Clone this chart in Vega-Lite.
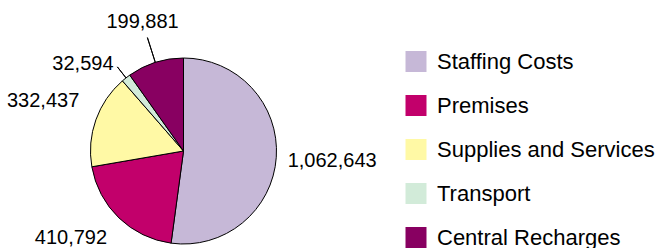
{
  "$schema": "https://vega.github.io/schema/vega-lite/v6.json",
  "autosize": "none",
  "width": 367,
  "height": 194,
  "padding": {"left": 0, "top": 54, "right": 289, "bottom": 0},
  "background": "white",
  "config": {"view": {"stroke": null}, "font": "Liberation Sans"},
  "data": {
    "values": [
      {"category": "Staffing Costs", "value": 1062643, "idx": 1},
      {"category": "Premises", "value": 410792, "idx": 2},
      {"category": "Supplies and Services", "value": 332437, "idx": 3},
      {"category": "Transport", "value": 32594, "idx": 4},
      {"category": "Central Recharges", "value": 199881, "idx": 5}
    ]
  },
  "encoding": {
    "theta": {"field": "value", "type": "quantitative", "stack": true},
    "order": {"field": "idx", "type": "quantitative"}
  },
  "layer": [
    {
      "mark": {"type": "arc", "outerRadius": 93, "stroke": "black", "strokeWidth": 1},
      "encoding": {
        "color": {
          "field": "category",
          "type": "nominal",
          "scale": {
            "domain": ["Staffing Costs", "Premises", "Supplies and Services", "Transport", "Central Recharges"],
            "range": ["#C6B8D7", "#C2006B", "#FFF9A5", "#D2EBD9", "#880061"]
          },
          "legend": {
            "orient": "none",
            "legendX": 405,
            "legendY": -3.5,
            "title": null,
            "padding": 0,
            "symbolType": "square",
            "symbolSize": 441,
            "symbolStrokeWidth": 0,
            "symbolOpacity": 1,
            "labelFontSize": 22,
            "labelFont": "Liberation Sans",
            "labelColor": "black",
            "labelOffset": 10,
            "labelLimit": 400,
            "rowPadding": 22
          }
        }
      }
    },
    {
      "mark": {"type": "arc", "innerRadius": 93, "outerRadius": 119, "padAngle": 3, "fillOpacity": 0, "stroke": "black", "strokeWidth": 1},
      "encoding": {
        "detail": {"field": "category", "type": "nominal"},
        "strokeOpacity": {"condition": {"test": "datum.category === 'Central Recharges'", "value": 1}, "value": 0}
      }
    },
    {
      "mark": {"type": "arc", "innerRadius": 93, "outerRadius": 107, "padAngle": 3, "fillOpacity": 0, "stroke": "black", "strokeWidth": 1},
      "encoding": {
        "detail": {"field": "category", "type": "nominal"},
        "strokeOpacity": {"condition": {"test": "datum.category === 'Transport'", "value": 1}, "value": 0}
      }
    },
    {
      "mark": {"type": "text", "radius": 149, "fontSize": 20, "align": "center", "baseline": "middle", "color": "black"},
      "encoding": {
        "detail": {"field": "category", "type": "nominal"},
        "text": {"condition": {"test": "datum.category === 'Staffing Costs' || datum.category === 'Supplies and Services'", "field": "value", "type": "quantitative", "format": ","}, "value": ""}
      }
    },
    {
      "mark": {"type": "text", "radius": 135, "fontSize": 20, "align": "center", "baseline": "middle", "color": "black"},
      "encoding": {
        "detail": {"field": "category", "type": "nominal"},
        "text": {"condition": {"test": "datum.category === 'Central Recharges'", "field": "value", "type": "quantitative", "format": ","}, "value": ""}
      }
    },
    {
      "mark": {"type": "text", "radius": 142.6, "dx": -13.6, "dy": -15.3, "fontSize": 20, "align": "center", "baseline": "middle", "color": "black"},
      "encoding": {
        "detail": {"field": "category", "type": "nominal"},
        "text": {"condition": {"test": "datum.category === 'Premises'", "field": "value", "type": "quantitative", "format": ","}, "value": ""}
      }
    },
    {
      "mark": {"type": "text", "radius": 132.9, "dx": -18.4, "dy": 17.4, "fontSize": 20, "align": "center", "baseline": "middle", "color": "black"},
      "encoding": {
        "detail": {"field": "category", "type": "nominal"},
        "text": {"condition": {"test": "datum.category === 'Transport'", "field": "value", "type": "quantitative", "format": ","}, "value": ""}
      }
    }
  ]
}
